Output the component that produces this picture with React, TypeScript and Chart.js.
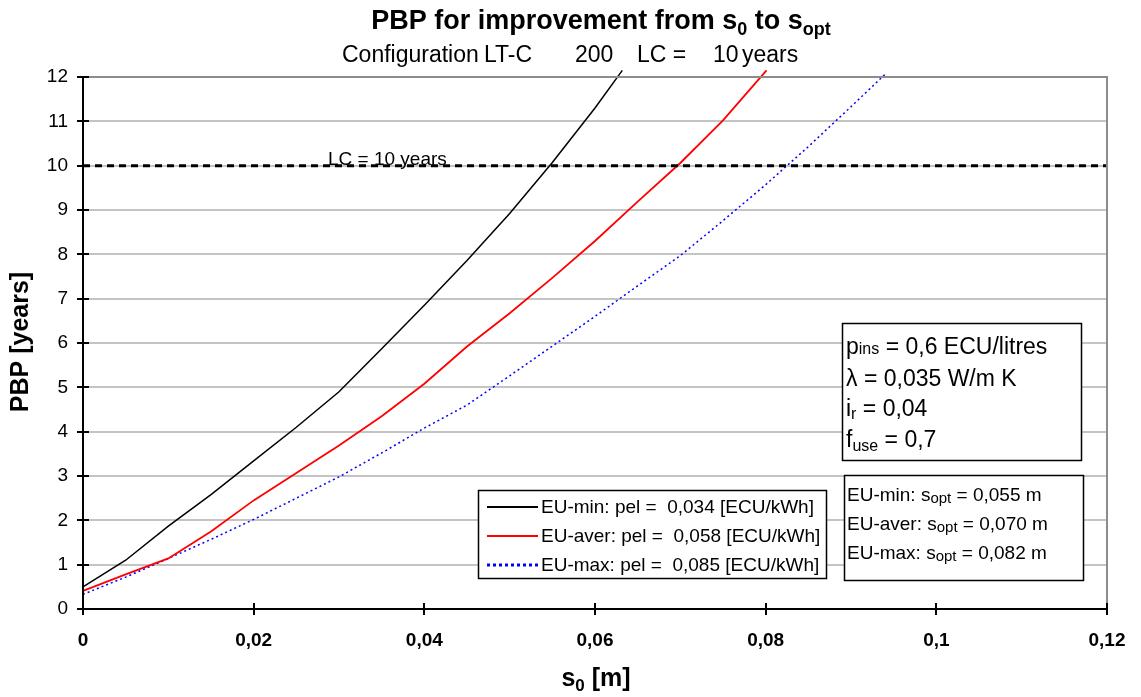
import React, { useEffect, useRef } from 'react';
import { Chart, registerables } from 'chart.js';

Chart.register(...registerables);

const FONT = '"Liberation Sans", Arial, Helvetica, sans-serif';

// ---- data ----
const xMin = 0;
const xMax = 0.12;
const xStep = 0.02;
const yMin = 0;
const yMax = 12;
const yStep = 1;

const sMin = [0, 0.005, 0.01, 0.015, 0.02, 0.025, 0.03, 0.035, 0.04, 0.045, 0.05, 0.055, 0.06, 0.0632];
const pbpMin = [0.5, 1.1, 1.87, 2.58, 3.34, 4.1, 4.9, 5.87, 6.85, 7.86, 8.92, 10.07, 11.3, 12.15];

const sAver = [0, 0.005, 0.01, 0.015, 0.02, 0.025, 0.03, 0.035, 0.04, 0.045, 0.05, 0.055, 0.06, 0.065, 0.07, 0.075, 0.0801];
const pbpAver = [0.41, 0.78, 1.14, 1.75, 2.45, 3.07, 3.69, 4.35, 5.08, 5.92, 6.67, 7.47, 8.3, 9.19, 10.06, 11.02, 12.15];

const sMax = [0, 0.005, 0.01, 0.015, 0.02, 0.025, 0.03, 0.035, 0.04, 0.045, 0.05, 0.055, 0.06, 0.065, 0.07, 0.075, 0.08, 0.085, 0.09, 0.0941];
const pbpMax = [0.33, 0.72, 1.14, 1.57, 2.02, 2.5, 2.98, 3.52, 4.08, 4.6, 5.26, 5.93, 6.6, 7.29, 7.97, 8.76, 9.57, 10.43, 11.33, 12.08];

const lcX = [0, 0.12];
const lcY = [10, 10];

const seriesLabels = ['EU-min: pel =  0,034 [ECU/kWh]', 'EU-aver: pel =  0,058 [ECU/kWh]', 'EU-max: pel =  0,085 [ECU/kWh]'];
const soptNames = ['EU-min: ', 'EU-aver: ', 'EU-max: '];
const soptValues = [' = 0,055 m', ' = 0,070 m', ' = 0,082 m'];
const lcLabel = 'LC = 10 years';

const toPts = (xs: number[], ys: number[]) => xs.map((x, i) => ({ x, y: ys[i] }));
const fmt = (v: number) => {
  const r = Math.round(v * 1000) / 1000;
  return String(r).replace('.', ',');
};

type Part = { t: string; size: number; bold?: boolean; dy?: number };

function richWidth(ctx: CanvasRenderingContext2D, parts: Part[]) {
  let w = 0;
  for (const p of parts) {
    ctx.font = `${p.bold ? 'bold ' : ''}${p.size}px ${FONT}`;
    w += ctx.measureText(p.t).width;
  }
  return w;
}

function drawRich(ctx: CanvasRenderingContext2D, parts: Part[], x: number, y: number, align: 'left' | 'center' = 'left') {
  let cx = align === 'center' ? x - richWidth(ctx, parts) / 2 : x;
  ctx.textAlign = 'left';
  ctx.textBaseline = 'alphabetic';
  for (const p of parts) {
    ctx.font = `${p.bold ? 'bold ' : ''}${p.size}px ${FONT}`;
    ctx.fillText(p.t, cx, y + (p.dy || 0));
    cx += ctx.measureText(p.t).width;
  }
}

const overlay = {
  id: 'overlay',
  afterDraw(chart: any) {
    const ctx: CanvasRenderingContext2D = chart.ctx;
    const a = chart.chartArea;
    const xs = chart.scales.x;
    const ys = chart.scales.y;
    ctx.save();

    // plot border top/right
    ctx.strokeStyle = '#8c8c8c';
    ctx.lineWidth = 2;
    ctx.beginPath();
    ctx.moveTo(a.left, a.top);
    ctx.lineTo(a.right, a.top);
    ctx.lineTo(a.right, a.bottom);
    ctx.stroke();

    // inner tick marks
    ctx.strokeStyle = '#000';
    ctx.lineWidth = 2;
    ctx.beginPath();
    for (let v = xMin; v <= xMax + 1e-9; v += xStep) {
      const px = Math.round(xs.getPixelForValue(v));
      ctx.moveTo(px, a.bottom - 6);
      ctx.lineTo(px, a.bottom);
    }
    for (let v = yMin; v <= yMax + 1e-9; v += yStep) {
      const py = Math.round(ys.getPixelForValue(v));
      ctx.moveTo(a.left, py);
      ctx.lineTo(a.left + 6, py);
    }
    ctx.stroke();
    ctx.beginPath();
    ctx.moveTo(a.left, a.top);
    ctx.lineTo(a.left, a.bottom);
    ctx.lineTo(a.right, a.bottom);
    ctx.stroke();

    ctx.fillStyle = '#000';
    // title
    drawRich(ctx, [
      { t: 'PBP for improvement from s', size: 27, bold: true },
      { t: '0', size: 18, bold: true, dy: 6 },
      { t: ' to s', size: 27, bold: true },
      { t: 'opt', size: 18, bold: true, dy: 6 },
    ], 601, 29, 'center');

    // subtitle pieces
    ctx.font = `23px ${FONT}`;
    ctx.textAlign = 'left';
    ctx.textBaseline = 'alphabetic';
    ctx.fillText('Configuration', 342, 62);
    ctx.fillStyle = '#fff';
    ctx.fillRect(480, 40, 4, 28);
    ctx.fillStyle = '#000';
    ctx.fillText('LT-C', 484, 62);
    ctx.fillText('200', 575, 62);
    ctx.fillText('LC =', 637, 62);
    ctx.fillText('10', 713, 62);
    ctx.fillText('years', 742, 62);

    // LC label
    ctx.font = `19px ${FONT}`;
    ctx.fillText(lcLabel, 328, 165);

    // y axis title
    ctx.save();
    ctx.translate(21, 342);
    ctx.rotate(-Math.PI / 2);
    ctx.font = `bold 25px ${FONT}`;
    ctx.textAlign = 'center';
    ctx.textBaseline = 'middle';
    ctx.fillText('PBP [years]', 0, 0);
    ctx.restore();

    // x axis title
    drawRich(ctx, [
      { t: 's', size: 25, bold: true },
      { t: '0', size: 17, bold: true, dy: 5 },
      { t: ' [m]', size: 25, bold: true },
    ], 596, 686, 'center');

    // legend box
    ctx.fillStyle = '#fff';
    ctx.fillRect(478, 490, 348, 88);
    ctx.strokeStyle = '#000';
    ctx.lineWidth = 1.5;
    ctx.strokeRect(478.5, 490.5, 348, 88);
    const legColors = ['#000000', '#ff0000', '#0000ff'];
    const rowsY = [507, 536, 565];
    for (let i = 0; i < 3; i++) {
      ctx.beginPath();
      ctx.strokeStyle = legColors[i];
      ctx.lineWidth = i === 2 ? 3 : 1.8;
      ctx.setLineDash(i === 2 ? [3, 3] : []);
      ctx.moveTo(487, rowsY[i]);
      ctx.lineTo(538, rowsY[i]);
      ctx.stroke();
      ctx.setLineDash([]);
      ctx.fillStyle = '#000';
      ctx.font = `19px ${FONT}`;
      ctx.textBaseline = 'middle';
      ctx.textAlign = 'left';
      ctx.fillText(seriesLabels[i], 541, rowsY[i] + 1);
    }

    // parameter box
    ctx.fillStyle = '#fff';
    ctx.fillRect(842, 323, 239, 137);
    ctx.strokeStyle = '#000';
    ctx.lineWidth = 1.5;
    ctx.strokeRect(842.5, 323.5, 239, 137);
    ctx.fillStyle = '#000';
    drawRich(ctx, [{ t: 'p', size: 23 }, { t: 'ins', size: 16 }, { t: ' = 0,6 ECU/litres', size: 23 }], 846, 354);
    drawRich(ctx, [{ t: 'λ = 0,035 W/m K', size: 23 }], 846, 386);
    drawRich(ctx, [{ t: 'i', size: 23 }, { t: 'r', size: 16, dy: 3 }, { t: ' = 0,04', size: 23 }], 846, 416);
    drawRich(ctx, [{ t: 'f', size: 23 }, { t: 'use', size: 16, dy: 4 }, { t: ' = 0,7', size: 23 }], 846, 447);

    // sopt box
    ctx.fillStyle = '#fff';
    ctx.fillRect(844, 475, 239, 105);
    ctx.strokeStyle = '#000';
    ctx.strokeRect(844.5, 475.5, 239, 105);
    ctx.fillStyle = '#000';
    const sy = [501, 530, 559];
    for (let i = 0; i < 3; i++) {
      drawRich(ctx, [
        { t: soptNames[i], size: 19 },
        { t: 's', size: 19 },
        { t: 'opt', size: 15, dy: 2 },
        { t: soptValues[i], size: 19 },
      ], 847, sy[i]);
    }

    ctx.restore();
  },
};

export default function App() {
  const ref = useRef<HTMLCanvasElement>(null);

  useEffect(() => {
    if (!ref.current) return;
    const chart = new Chart(ref.current, {
      type: 'line',
      data: {
        datasets: [
          {
            label: 'LC',
            data: toPts(lcX, lcY),
            borderColor: '#000',
            borderWidth: 3,
            borderDash: [7, 5],
            pointRadius: 0,
            clip: false as any,
          },
          {
            label: seriesLabels[0],
            data: toPts(sMin, pbpMin),
            borderColor: '#000000',
            borderWidth: 1.5,
            pointRadius: 0,
            clip: false as any,
          },
          {
            label: seriesLabels[1],
            data: toPts(sAver, pbpAver),
            borderColor: '#ff0000',
            borderWidth: 1.8,
            pointRadius: 0,
            clip: false as any,
          },
          {
            label: seriesLabels[2],
            data: toPts(sMax, pbpMax),
            borderColor: '#0000ff',
            borderWidth: 1.5,
            borderDash: [2, 3],
            pointRadius: 0,
            clip: false as any,
          },
        ],
      },
      options: {
        animation: false,
        responsive: false,
        layout: { padding: { left: 0, top: 77, right: 34, bottom: 0 } },
        plugins: {
          legend: { display: false },
          title: { display: false },
          tooltip: { enabled: false },
        },
        scales: {
          x: {
            type: 'linear',
            min: xMin,
            max: xMax,
            afterFit: (s: any) => { s.height = 88; },
            grid: { drawOnChartArea: false, drawTicks: true, tickLength: 6, color: '#000', lineWidth: 2 },
            border: { color: '#000', width: 2 },
            ticks: {
              stepSize: xStep,
              padding: 14,
              color: '#000',
              font: { family: FONT, size: 19, weight: 'bold' },
              callback: (v: any) => fmt(Number(v)),
            },
          },
          y: {
            type: 'linear',
            min: yMin,
            max: yMax,
            afterFit: (s: any) => { s.width = 83; },
            grid: { color: '#c4c4c4', lineWidth: 2, tickLength: 6, tickColor: '#000', tickWidth: 2 } as any,
            border: { color: '#000', width: 2 },
            ticks: {
              stepSize: yStep,
              padding: 9,
              color: '#000',
              font: { family: FONT, size: 19 },
              callback: (v: any) => String(v),
            },
          },
        },
      } as any,
      plugins: [overlay],
    });
    return () => chart.destroy();
  }, []);

  return (
    <div style={{ position: 'fixed', left: 0, top: 0, width: 1141, height: 697, background: '#fff' }}>
      <canvas ref={ref} width={1141} height={697} style={{ display: 'block' }} />
    </div>
  );
}
